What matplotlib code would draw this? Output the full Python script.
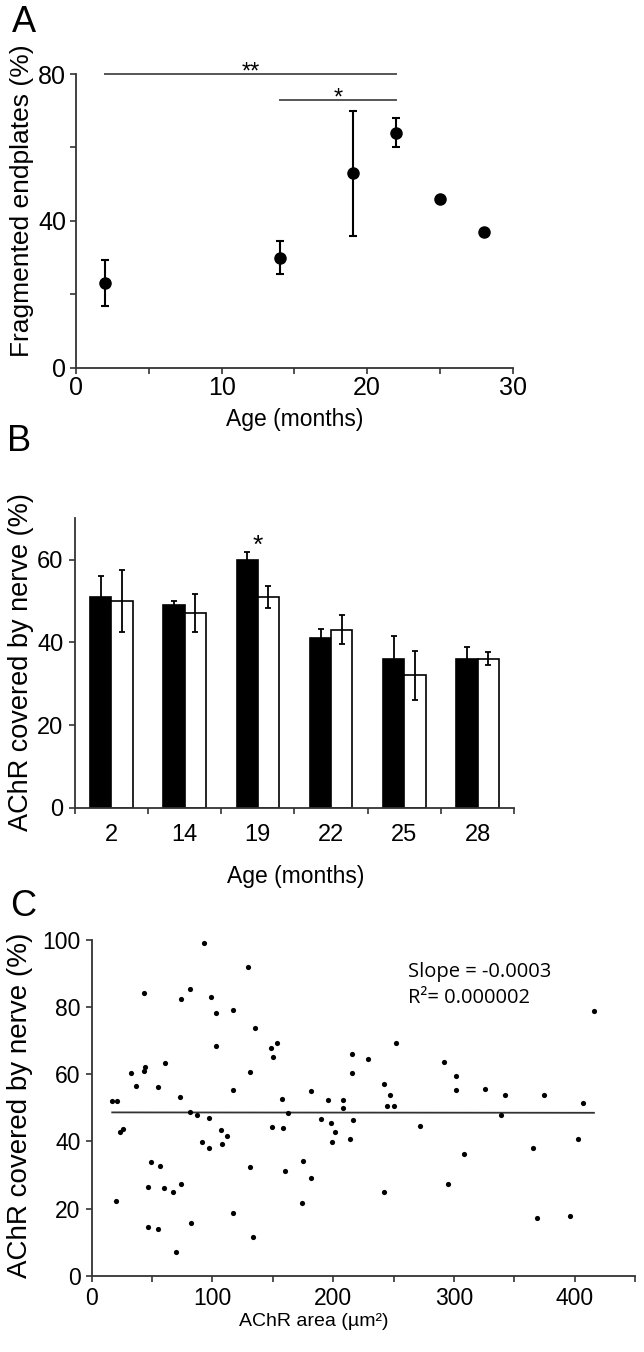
import matplotlib
matplotlib.use('Agg')
import matplotlib.pyplot as plt
from matplotlib import font_manager
from matplotlib.ticker import MultipleLocator, FixedLocator, FuncFormatter
import numpy as np

names = {f.name for f in font_manager.fontManager.ttflist}
NARROW = 'Liberation Sans Narrow' if 'Liberation Sans Narrow' in names else 'Liberation Sans'
REG = 'Liberation Sans'
plt.rcParams['font.family'] = [REG, 'DejaVu Sans']

# ---------------- data ----------------
# Panel A
age_a = [2, 14, 19, 22, 25, 28]
frag_pct = [23.0, 30.0, 53.0, 64.0, 46.0, 37.0]
frag_err = [6.2, 4.6, 17.0, 3.9, 0.0, 0.0]
sig_x0 = [2, 14]
sig_x1 = [22, 22]
sig_y = [80.0, 72.8]
sig_txt = ['**', '*']

# Panel B
ages_b = ['2', '14', '19', '22', '25', '28']
black_vals = [51.0, 49.0, 60.0, 41.0, 36.0, 36.0]
black_err = [5.0, 1.0, 1.8, 2.3, 5.5, 2.9]
white_vals = [50.0, 47.0, 51.0, 43.0, 32.0, 36.0]
white_err = [7.5, 4.6, 2.7, 3.5, 6.0, 1.6]
star_b_group = 2

# Panel C
area = [93.0, 129.1, 43.3, 81.1, 73.7, 98.8, 102.6, 116.7, 134.9, 103.2, 148.4, 153.1,
        150.4, 131.3, 32.5, 43.3, 44.1, 60.7, 36.9, 55.1, 116.7, 73.1, 16.8, 21.2,
        157.3, 181.3, 195.6, 208.3, 208.0, 215.2, 216.0, 228.7,
        81.4, 87.4, 97.1, 162.5, 23.2, 26.2, 106.8, 111.8, 91.3, 97.1, 108.1, 149.0,
        158.4, 190.1, 198.1, 201.7, 198.9, 214.1, 216.6, 49.4, 56.5, 130.8, 174.7, 160.0,
        181.3, 46.6, 59.9, 67.1, 73.7, 20.1, 174.3, 116.7, 46.6, 55.1, 82.0, 133.8, 69.8,
        251.9, 291.9, 301.8, 301.8, 325.8, 342.7, 375.0, 407.0, 416.1, 242.0, 246.9,
        244.7, 250.5, 338.8, 272.3, 308.2, 365.6, 402.6, 241.7, 295.2, 368.6, 396.5]
cover = [99.1, 91.9, 84.3, 85.4, 82.3, 83.0, 78.3, 79.2, 73.8, 68.3, 67.7, 69.4,
         65.1, 60.8, 60.4, 61.1, 62.2, 63.4, 56.4, 56.3, 55.3, 53.1, 52.0, 52.0,
         52.6, 55.1, 52.4, 52.2, 49.9, 66.0, 60.3, 64.5,
         48.8, 47.9, 47.1, 48.4, 42.7, 43.6, 43.3, 41.7, 39.8, 38.1, 39.1, 44.4,
         44.0, 46.8, 45.4, 42.7, 39.8, 40.7, 46.3, 33.8, 32.7, 32.3, 34.1, 31.3,
         29.2, 26.3, 26.1, 24.9, 27.4, 22.2, 21.7, 18.7, 14.6, 13.9, 15.8, 11.5, 7.1,
         69.2, 63.7, 59.4, 55.2, 55.6, 53.7, 53.7, 51.4, 78.8, 57.2, 53.9,
         50.5, 50.5, 47.9, 44.6, 36.3, 38.1, 40.8, 24.9, 27.3, 17.1, 17.9]
fit_slope = -0.0003
fit_intercept = 48.65
fit_range = [17, 416]
stats_lines = ['Slope = -0.0003', 'R\u00b2= 0.000002']

# ---------------- figure ----------------
W, H = 644, 1352
fig = plt.figure(figsize=(W / 100, H / 100), dpi=100)


def axrect(l, t, r, b):
    return [l / W, 1 - b / H, (r - l) / W, (b - t) / H]


def ftext(px, py, s, **kw):
    fig.text(px / W, 1 - py / H, s, **kw)


SPINE = '#333333'
FAM = [NARROW, REG, 'DejaVu Sans']


def style(ax):
    for s in ['top', 'right']:
        ax.spines[s].set_visible(False)
    for s in ['left', 'bottom']:
        ax.spines[s].set_color(SPINE)
        ax.spines[s].set_linewidth(1.3)
    ax.tick_params(which='both', direction='out', color=SPINE, width=1.2, length=4)


# ---------- Panel A ----------
axA = fig.add_axes(axrect(76, 74, 512.7, 367.7))
style(axA)
axA.set_xlim(0, 30)
axA.set_ylim(0, 80)
axA.xaxis.set_major_locator(MultipleLocator(10))
axA.xaxis.set_minor_locator(MultipleLocator(5))
axA.yaxis.set_major_locator(MultipleLocator(40))
axA.yaxis.set_minor_locator(MultipleLocator(20))
axA.tick_params(labelsize=18)
axA.tick_params(axis='y', pad=3)
axA.tick_params(axis='x', pad=2)
for lab in axA.get_xticklabels() + axA.get_yticklabels():
    lab.set_family(FAM)
ea = np.array(frag_err)
xa = np.array(age_a)
ya = np.array(frag_pct)
m = ea > 0
axA.errorbar(xa[m], ya[m], yerr=ea[m], fmt='none', ecolor='black', elinewidth=1.5,
             capsize=3.2, capthick=1.5, zorder=2)
axA.plot(xa, ya, 'o', color='black', markersize=8, zorder=3)
for x0, x1, y, t in zip(sig_x0, sig_x1, sig_y, sig_txt):
    axA.plot([x0, x1], [y, y], color='#555555', lw=1.4, clip_on=False)
    axA.text((x0 + x1) / 2, y - 1.1, t, ha='center', va='baseline', fontsize=17,
             family=FAM, clip_on=False)

ftext(24, 23, 'A', fontsize=26, ha='center', va='center', family=FAM)
ftext(22, 201, 'Fragmented endplates (%)', fontsize=19, rotation=90, ha='center',
      va='center', family=FAM)
ftext(295, 420, 'Age (months)', fontsize=16.5, ha='center', va='center', family=FAM)

# ---------- Panel B ----------
axB = fig.add_axes(axrect(74.7, 518.3, 514.3, 807.7))
style(axB)
xb = np.arange(len(ages_b))
bw = 0.29
axB.bar(xb - bw / 2, black_vals, width=bw, color='black', edgecolor='black', lw=1.2,
        zorder=2)
axB.bar(xb + bw / 2, white_vals, width=bw, color='white', edgecolor='black', lw=1.2,
        zorder=2)
axB.errorbar(xb - bw / 2, black_vals, yerr=black_err, fmt='none', ecolor='black',
             elinewidth=1.3, capsize=2.5, capthick=1.3, zorder=3)
axB.errorbar(xb + bw / 2, white_vals, yerr=white_err, fmt='none', ecolor='black',
             elinewidth=1.3, capsize=2.5, capthick=1.3, zorder=3)
axB.set_xlim(-0.5, len(ages_b) - 0.5)
axB.set_ylim(0, 70)
axB.xaxis.set_major_locator(FixedLocator(np.arange(-0.5, len(ages_b), 1.0)))
axB.xaxis.set_major_formatter(FuncFormatter(lambda v, p: ''))
axB.set_xticks(xb, ages_b, minor=True)
axB.tick_params(axis='x', which='minor', length=0, pad=12, labelsize=17)
axB.yaxis.set_major_locator(FixedLocator([0, 20, 40, 60]))
axB.tick_params(axis='y', labelsize=17, pad=4)
for lab in axB.get_xticklabels(minor=True) + axB.get_yticklabels():
    lab.set_family(FAM)
axB.text(xb[star_b_group], black_vals[star_b_group] + black_err[star_b_group] - 0.1, '*',
         ha='center', va='baseline', fontsize=19, family=FAM)

ftext(19, 442, 'B', fontsize=26, ha='center', va='center', family=FAM)
ftext(21, 662, 'AChR covered by nerve (%)', fontsize=19.5, rotation=90, ha='center',
      va='center', family=FAM)
ftext(296, 877, 'Age (months)', fontsize=16.5, ha='center', va='center', family=FAM)

# ---------- Panel C ----------
axC = fig.add_axes(axrect(91.7, 940, 635, 1275.7))
style(axC)
axC.set_xlim(0, 450)
axC.set_ylim(0, 100)
axC.xaxis.set_major_locator(MultipleLocator(50))
axC.xaxis.set_major_formatter(FuncFormatter(lambda v, p: '%d' % v if v % 100 == 0 else ''))
axC.yaxis.set_major_locator(MultipleLocator(20))
axC.tick_params(labelsize=16.5, length=4)
axC.tick_params(axis='x', pad=4)
axC.tick_params(axis='y', pad=4)
axC.scatter(area, cover, s=14, color='black', zorder=3, linewidths=0)
fx = np.array(fit_range, dtype=float)
axC.plot(fx, fit_intercept + fit_slope * fx, color='#333333', lw=1.3, zorder=2)
axC.text(261.6, 90.6, stats_lines[0], fontsize=14.5, family=['Open Sans', 'DejaVu Sans'],
         ha='left', va='center')
axC.text(261.6, 82.6, stats_lines[1], fontsize=14.5, family=['Open Sans', 'DejaVu Sans'],
         ha='left', va='center')

ftext(23, 907, 'C', fontsize=26, ha='center', va='center', family=FAM)
ftext(20, 1105, 'AChR covered by nerve (%)', fontsize=20, rotation=90, ha='center',
      va='center', family=[REG, 'DejaVu Sans'])
ftext(314, 1322, 'AChR area (\u00b5m\u00b2)', fontsize=14, ha='center', va='center',
      family=FAM)

fig.savefig('out.png', dpi=100)
